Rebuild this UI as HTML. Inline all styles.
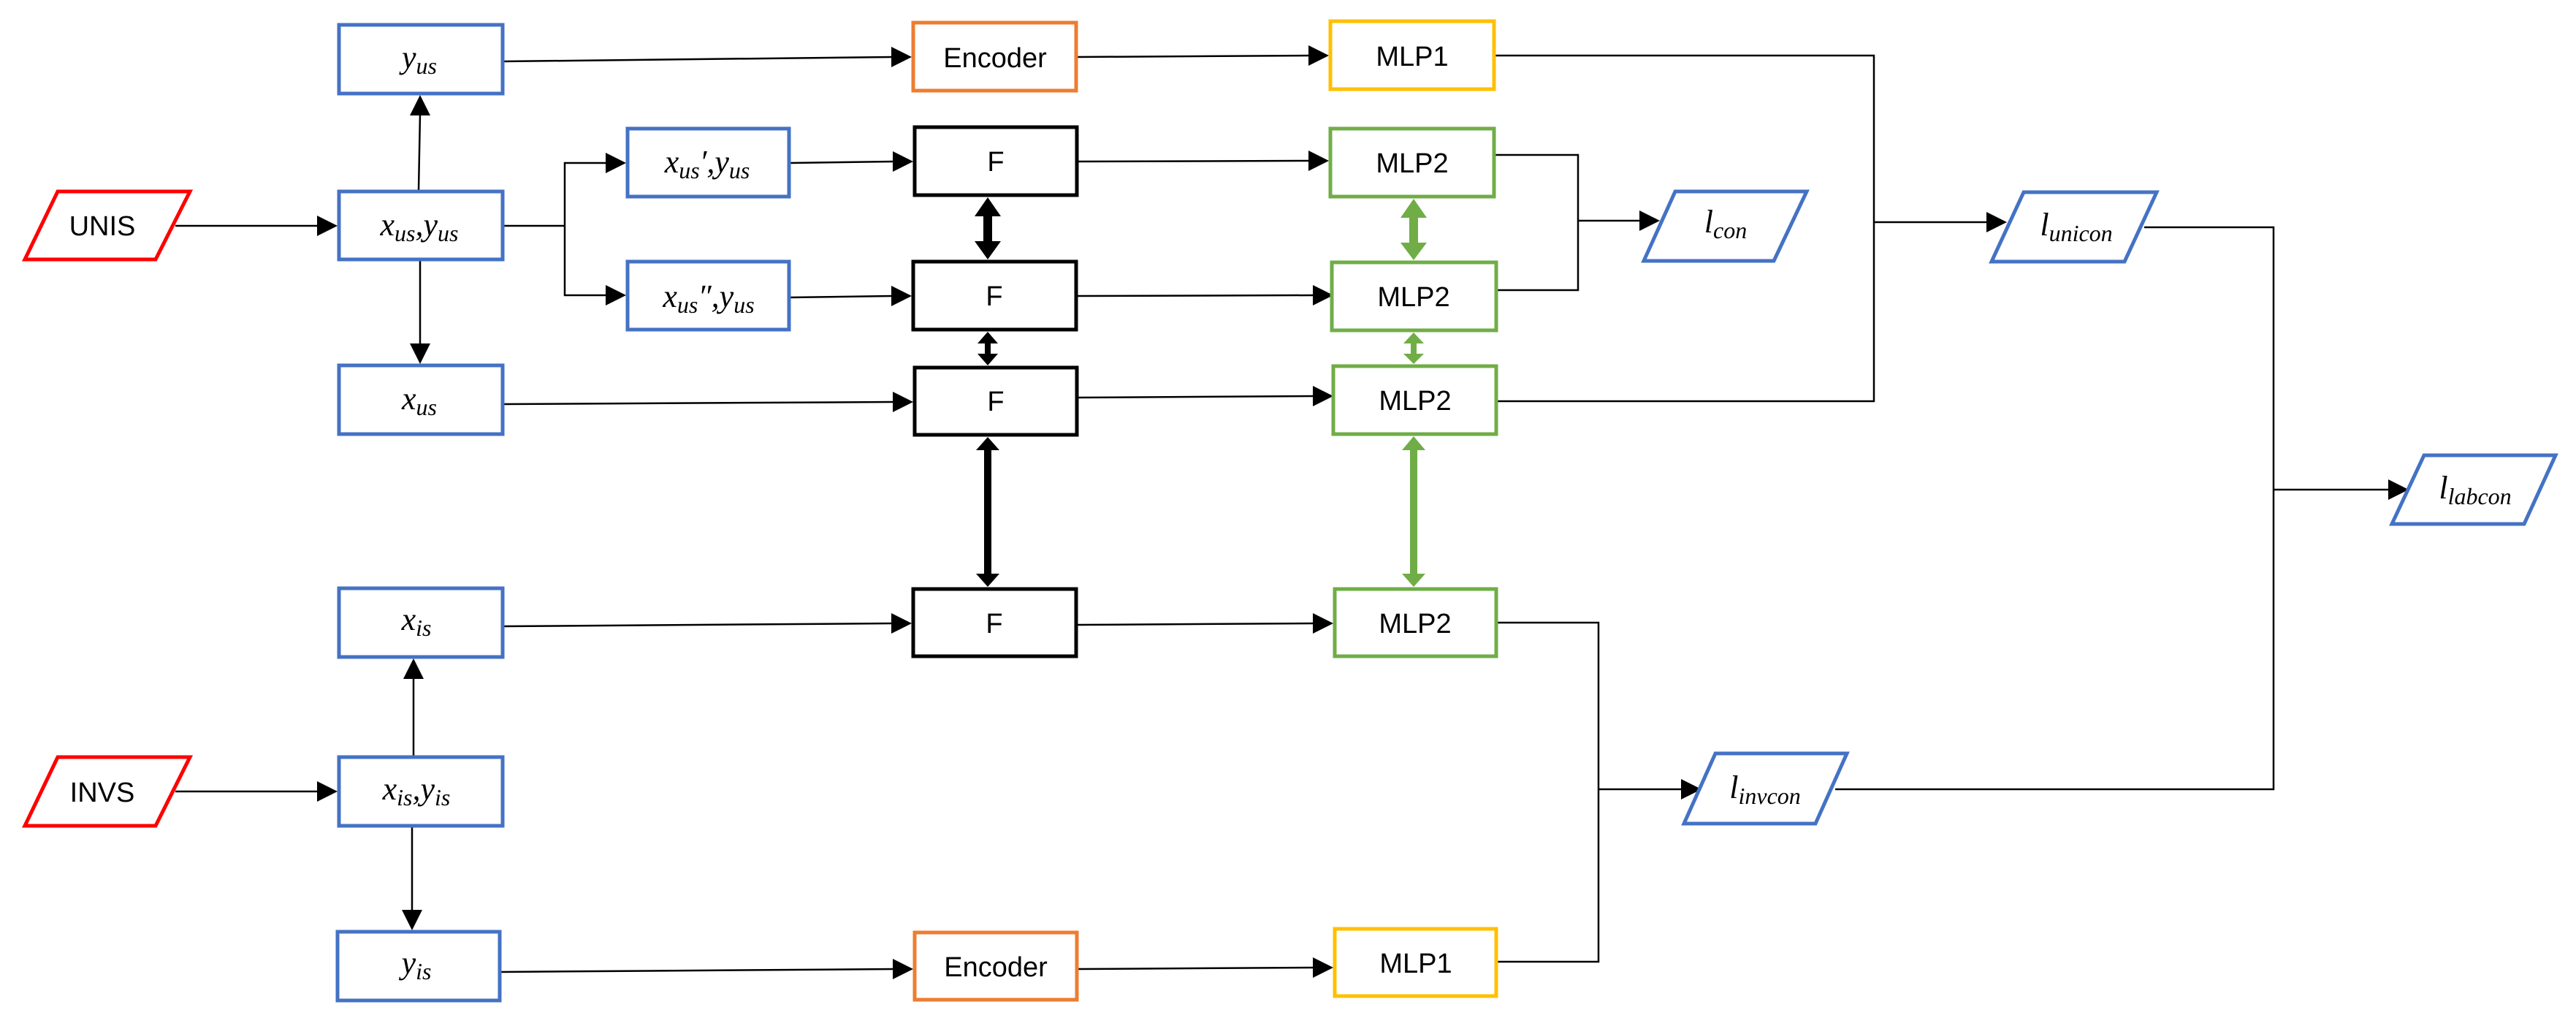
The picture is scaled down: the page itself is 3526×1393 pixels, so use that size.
<!DOCTYPE html>
<html><head><meta charset="utf-8"><style>
html,body{margin:0;padding:0;background:#fff}
svg{display:block}
.t{font-family:"Liberation Sans",sans-serif;font-size:38px;fill:#000}
.m{font-family:"Liberation Serif",serif;font-style:italic;font-size:44px;fill:#000}
.s{font-size:32px}
.ln{stroke:#000;stroke-width:2.5;fill:none}
</style></head><body>
<svg width="3526" height="1393" viewBox="0 0 3526 1393" xmlns="http://www.w3.org/2000/svg">
<defs>
<marker id="a" markerWidth="12" markerHeight="12" refX="11" refY="6" orient="auto" markerUnits="userSpaceOnUse" viewBox="0 0 12 12">
</marker>
</defs>
<g class="ln">
<!-- connectors -->
<line x1="690" y1="84" x2="1222" y2="78"/>
<line x1="1475" y1="78" x2="1793" y2="76"/>
<polyline points="2047,76 2565,76 2565,549 2047,549"/>
<line x1="2565" y1="304" x2="2720" y2="304"/>
<polyline points="2047,212 2160,212 2160,397 2047,397"/>
<line x1="2160" y1="302" x2="2245" y2="302"/>
<polyline points="2935,311 3112,311 3112,1080 2512,1080"/>
<line x1="3112" y1="670" x2="3270" y2="670"/>
<polyline points="2050,852 2188,852 2188,1316 2050,1316"/>
<line x1="2188" y1="1080" x2="2302" y2="1080"/>
<line x1="240" y1="309" x2="436" y2="309"/>
<polyline points="690,309 773,309"/>
<polyline points="831,223 773,223 773,404 831,404"/>
<line x1="1082" y1="223" x2="1224" y2="221"/>
<line x1="1082" y1="407" x2="1222" y2="405"/>
<line x1="690" y1="553" x2="1224" y2="550"/>
<line x1="1476" y1="221" x2="1793" y2="220"/>
<line x1="1475" y1="405" x2="1799" y2="404"/>
<line x1="1476" y1="544" x2="1799" y2="542"/>
<line x1="573" y1="260" x2="575" y2="156"/>
<line x1="575" y1="357" x2="575" y2="472"/>
<line x1="690" y1="857" x2="1222" y2="853"/>
<line x1="1475" y1="855" x2="1799" y2="853"/>
<line x1="566" y1="1034" x2="566" y2="927"/>
<line x1="564" y1="1132" x2="564" y2="1247"/>
<line x1="686" y1="1330" x2="1224" y2="1326"/>
<line x1="1476" y1="1326" x2="1799" y2="1324"/>
<line x1="240" y1="1083" x2="436" y2="1083"/>
</g>
<g fill="#000">
<!-- right-pointing arrowheads: tip x,y -->
<polygon points="1248,78 1220,64 1220,92"/>
<polygon points="1819,76 1791,62 1791,90"/>
<polygon points="2747,304 2719,290 2719,318"/>
<polygon points="2272,302 2244,288 2244,316"/>
<polygon points="3297,670 3269,656 3269,684"/>
<polygon points="2329,1080 2301,1066 2301,1094"/>
<polygon points="462,309 434,295 434,323"/>
<polygon points="857,223 829,209 829,237"/>
<polygon points="857,404 829,390 829,418"/>
<polygon points="1250,221 1222,207 1222,235"/>
<polygon points="1248,405 1220,391 1220,419"/>
<polygon points="1250,550 1222,536 1222,564"/>
<polygon points="1819,220 1791,206 1791,234"/>
<polygon points="1825,404 1797,390 1797,418"/>
<polygon points="1825,542 1797,528 1797,556"/>
<polygon points="1248,853 1220,839 1220,867"/>
<polygon points="1825,853 1797,839 1797,867"/>
<polygon points="1250,1326 1222,1312 1222,1340"/>
<polygon points="1825,1324 1797,1310 1797,1338"/>
<polygon points="462,1083 434,1069 434,1097"/>
<!-- vertical -->
<polygon points="575,130 561,158 589,158"/>
<polygon points="575,498 561,470 589,470"/>
<polygon points="566,901 552,929 580,929"/>
<polygon points="564,1273 550,1245 578,1245"/>
</g>
<!-- double arrows black -->
<g fill="#000">
<rect x="1346" y="292" width="12" height="42"/>
<polygon points="1352,270 1334,296 1370,296"/><polygon points="1352,355 1334,330 1370,330"/>
<rect x="1348" y="468" width="8" height="18"/>
<polygon points="1352,454 1338,470 1366,470"/><polygon points="1352,500 1338,484 1366,484"/>
<rect x="1347" y="612" width="10" height="176"/>
<polygon points="1352,598 1336,616 1368,616"/><polygon points="1352,803 1336,785 1368,785"/>
</g>
<g fill="#70AD47">
<rect x="1929" y="294" width="12" height="42"/>
<polygon points="1935,272 1917,298 1953,298"/><polygon points="1935,356 1917,332 1953,332"/>
<rect x="1931" y="468" width="8" height="18"/>
<polygon points="1935,455 1921,470 1949,470"/><polygon points="1935,498 1921,484 1949,484"/>
<rect x="1930" y="612" width="10" height="176"/>
<polygon points="1935,597 1919,616 1951,616"/><polygon points="1935,803 1919,785 1951,785"/>
</g>
<!-- boxes -->
<g fill="#fff" stroke-width="5">
<rect x="464" y="34" width="224" height="94" stroke="#4472C4"/>
<rect x="464" y="262" width="224" height="93" stroke="#4472C4"/>
<rect x="464" y="500" width="224" height="94" stroke="#4472C4"/>
<rect x="859" y="176" width="221" height="93" stroke="#4472C4"/>
<rect x="859" y="358" width="221" height="93" stroke="#4472C4"/>
<rect x="464" y="805" width="224" height="94" stroke="#4472C4"/>
<rect x="464" y="1036" width="224" height="94" stroke="#4472C4"/>
<rect x="462" y="1275" width="222" height="94" stroke="#4472C4"/>
<rect x="1250" y="31" width="223" height="93" stroke="#ED7D31"/>
<rect x="1252" y="1276" width="222" height="92" stroke="#ED7D31"/>
<rect x="1821" y="29" width="224" height="93" stroke="#FFC000"/>
<rect x="1827" y="1271" width="221" height="92" stroke="#FFC000"/>
<rect x="1252" y="174" width="222" height="93" stroke="#000"/>
<rect x="1250" y="358" width="223" height="93" stroke="#000"/>
<rect x="1252" y="503" width="222" height="92" stroke="#000"/>
<rect x="1250" y="806" width="223" height="92" stroke="#000"/>
<rect x="1821" y="176" width="224" height="93" stroke="#70AD47"/>
<rect x="1823" y="359" width="225" height="93" stroke="#70AD47"/>
<rect x="1825" y="501" width="223" height="93" stroke="#70AD47"/>
<rect x="1827" y="806" width="221" height="92" stroke="#70AD47"/>
<!-- parallelograms -->
<polygon points="79,262 260,262 213,355 34,355" stroke="#FF0000"/>
<polygon points="79,1036 260,1036 213,1130 34,1130" stroke="#FF0000"/>
<polygon points="2293,262 2473,262 2428,357 2250,357" stroke="#4472C4"/>
<polygon points="2770,263 2952,263 2908,358 2726,358" stroke="#4472C4"/>
<polygon points="3318,623 3498,623 3455,717 3274,717" stroke="#4472C4"/>
<polygon points="2348,1031 2528,1031 2485,1127 2305,1127" stroke="#4472C4"/>
</g>
<!-- text -->
<g text-anchor="middle">
<text class="t" x="140" y="322">UNIS</text>
<text class="t" x="140" y="1097">INVS</text>
<text class="t" x="1362" y="92">Encoder</text>
<text class="t" x="1363" y="1336">Encoder</text>
<text class="t" x="1933" y="90">MLP1</text>
<text class="t" x="1938" y="1331">MLP1</text>
<text class="t" x="1363" y="234">F</text>
<text class="t" x="1361" y="418">F</text>
<text class="t" x="1363" y="562">F</text>
<text class="t" x="1361" y="866">F</text>
<text class="t" x="1933" y="236">MLP2</text>
<text class="t" x="1935" y="419">MLP2</text>
<text class="t" x="1937" y="561">MLP2</text>
<text class="t" x="1937" y="866">MLP2</text>
<text class="m" x="574" y="93">y<tspan class="s" dy="8">us</tspan></text>
<text class="m" x="574" y="322">x<tspan class="s" dy="8">us</tspan><tspan dy="-8">,y</tspan><tspan class="s" dy="8">us</tspan></text>
<text class="m" x="574" y="560">x<tspan class="s" dy="8">us</tspan></text>
<text class="m" x="968" y="236">x<tspan class="s" dy="8">us</tspan><tspan dy="-8">′,y</tspan><tspan class="s" dy="8">us</tspan></text>
<text class="m" x="970" y="420">x<tspan class="s" dy="8">us</tspan><tspan dy="-8">″,y</tspan><tspan class="s" dy="8">us</tspan></text>
<text class="m" x="570" y="862">x<tspan class="s" dy="8">is</tspan></text>
<text class="m" x="570" y="1094">x<tspan class="s" dy="8">is</tspan><tspan dy="-8">,y</tspan><tspan class="s" dy="8">is</tspan></text>
<text class="m" x="570" y="1332">y<tspan class="s" dy="8">is</tspan></text>
<text class="m" x="2362" y="318">l<tspan class="s" dy="8">con</tspan></text>
<text class="m" x="2842" y="322">l<tspan class="s" dy="8">unicon</tspan></text>
<text class="m" x="3388" y="682">l<tspan class="s" dy="8">labcon</tspan></text>
<text class="m" x="2416" y="1092">l<tspan class="s" dy="8">invcon</tspan></text>
</g>
</svg>
</body></html>
